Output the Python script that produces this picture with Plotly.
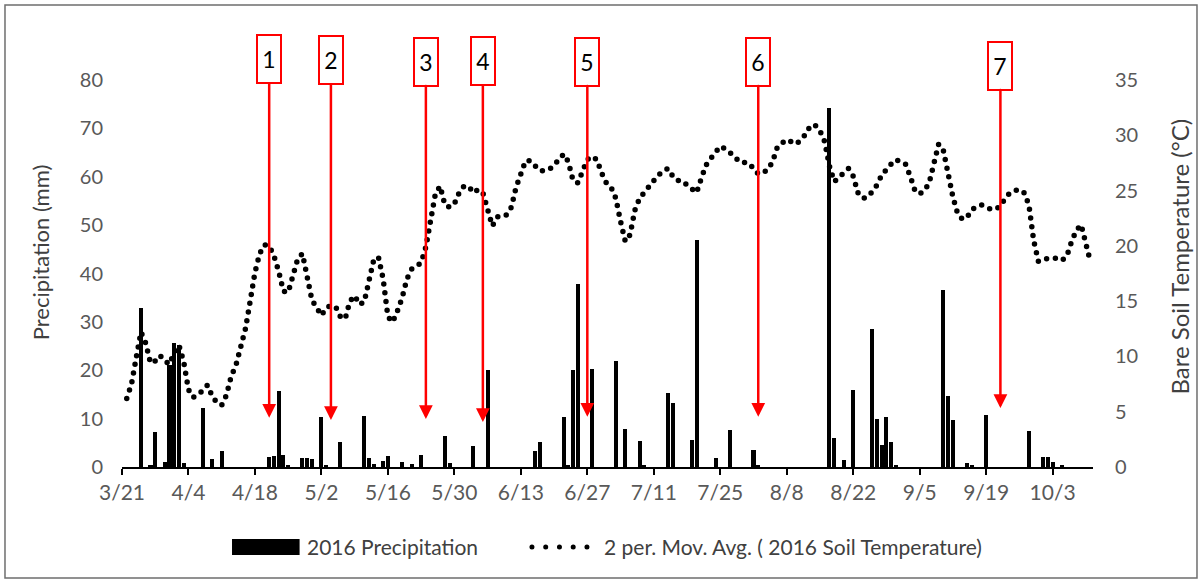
import pandas as pd
import plotly.graph_objects as go

# ---------------- data ----------------
precip_dates = [
    "2016-03-25", "2016-03-27", "2016-03-28", "2016-03-30", "2016-03-31", "2016-04-01", "2016-04-02", "2016-04-03",
    "2016-04-07", "2016-04-09", "2016-04-11",
    "2016-04-21", "2016-04-22", "2016-04-23", "2016-04-24", "2016-04-25",
    "2016-04-28", "2016-04-29", "2016-04-30",
    "2016-05-02", "2016-05-03", "2016-05-06",
    "2016-05-11", "2016-05-12", "2016-05-13", "2016-05-15", "2016-05-16",
    "2016-05-19", "2016-05-21", "2016-05-23",
    "2016-05-28", "2016-05-29",
    "2016-06-03", "2016-06-06",
    "2016-06-16", "2016-06-17",
    "2016-06-22", "2016-06-23", "2016-06-24", "2016-06-25", "2016-06-28",
    "2016-07-03", "2016-07-05", "2016-07-08", "2016-07-09",
    "2016-07-14", "2016-07-15",
    "2016-07-19", "2016-07-20",
    "2016-07-24", "2016-07-27",
    "2016-08-01", "2016-08-02",
    "2016-08-17", "2016-08-18", "2016-08-20", "2016-08-22",
    "2016-08-26", "2016-08-27", "2016-08-28", "2016-08-29", "2016-08-30", "2016-08-31",
    "2016-09-10", "2016-09-11", "2016-09-12",
    "2016-09-15", "2016-09-16", "2016-09-19",
    "2016-09-28",
    "2016-10-01", "2016-10-02", "2016-10-03", "2016-10-05",
]
precip_mm = [
    32.8, 0.5, 7.3, 1.0, 21.0, 25.6, 25.2, 0.8,
    12.1, 1.6, 3.4,
    2.0, 2.2, 15.8, 2.4, 0.5,
    1.8, 1.8, 1.6,
    10.4, 0.5, 5.2,
    10.5, 1.8, 0.6, 1.2, 2.2,
    1.0, 0.6, 2.4,
    6.4, 0.8,
    4.3, 20.0,
    3.3, 5.2,
    10.4, 0.4, 20.0, 37.8, 20.2,
    22.0, 7.8, 5.4, 0.3,
    15.4, 13.3,
    5.6, 47.0,
    1.8, 7.6,
    3.6, 0.3,
    74.3, 5.9, 1.5, 15.9,
    28.5, 10.0, 4.6, 10.3, 5.2, 0.5,
    36.6, 14.6, 9.7,
    0.9, 0.4, 10.8,
    7.5,
    2.1, 2.1, 1.0, 0.5,
]

temp_start = "2016-03-22"
soil_temp_ma = [
    6.2, 7.5, 9.9, 12.2, 11.2, 9.4, 9.6, 10.1, 9.6, 9.3,
    10.4, 11.0, 9.5, 7.0, 6.3, 6.6, 6.9, 7.4, 6.4, 5.8,
    5.6, 6.5, 8.2, 9.2, 10.9, 12.5, 15.0, 17.6, 19.3, 20.1,
    20.0, 19.1, 17.7, 15.9, 15.8, 17.1, 18.8, 19.3, 17.2, 15.1,
    14.4, 13.7, 14.4, 14.6, 14.5, 13.6, 13.4, 15.0, 15.5, 14.7,
    14.9, 16.8, 18.7, 19.0, 17.0, 13.6, 13.1, 14.1, 15.3, 17.0,
    17.9, 18.1, 18.5, 19.9, 22.0, 24.7, 25.4, 23.7, 23.5, 23.8,
    24.8, 25.4, 25.4, 24.8, 25.1, 24.8, 23.3, 21.8, 22.6, 22.8,
    22.8, 23.5, 25.3, 26.7, 27.7, 27.7, 27.3, 26.8, 26.8, 26.9,
    27.3, 27.9, 28.3, 27.6, 25.9, 25.7, 26.8, 27.8, 28.1, 27.8,
    26.6, 25.7, 25.3, 24.3, 22.2, 20.4, 21.0, 23.2, 24.3, 24.9,
    25.4, 25.9, 26.4, 26.8, 27.0, 26.3, 25.9, 25.9, 25.5, 25.1,
    24.8, 26.1, 27.3, 27.9, 28.4, 29.0, 28.8, 28.5, 28.1, 27.6,
    27.6, 27.5, 27.0, 26.5, 26.6, 26.9, 27.6, 28.9, 29.3, 29.6,
    29.4, 29.2, 29.6, 30.1, 30.9, 30.9, 30.4, 29.4, 27.2, 25.8,
    26.2, 26.6, 27.0, 26.3, 24.8, 24.3, 24.4, 24.9, 25.5, 26.4,
    27.0, 27.4, 27.8, 27.6, 27.4, 26.3, 25.0, 24.7, 25.0, 25.7,
    27.4, 29.2, 28.6, 26.2, 24.4, 22.9, 22.4, 22.6, 23.3, 23.5,
    23.7, 23.5, 23.3, 23.3, 23.6, 24.3, 24.8, 25.0, 25.1, 24.8,
    23.7, 20.5, 18.6, 18.8, 18.8, 18.9, 18.9, 18.7, 19.1, 20.4,
    21.4, 21.9, 20.0, 18.5,
]
temp_dates = pd.date_range(temp_start, periods=len(soil_temp_ma), freq="D")

# sampling-event markers (arrows)
event_labels = ["1", "2", "3", "4", "5", "6", "7"]
event_dates = ["2016-04-21", "2016-05-04", "2016-05-24", "2016-06-05", "2016-06-27", "2016-08-02", "2016-09-22"]
event_tip_mm = [10.2, 9.7, 9.9, 9.3, 10.4, 10.4, 12.2]
event_box_mm = [84.3, 84.1, 83.7, 83.9, 83.7, 83.7, 82.9]

x_range = ["2016-03-21", "2016-10-11 12:00"]
x_tick0 = "2016-03-21"

# ---------------- figure ----------------
FONT = "Lato"
TXT = "#404040"
TICK = "#595959"
DAY_MS = 86400000

fig = go.Figure()
fig.add_trace(go.Bar(
    x=precip_dates, y=precip_mm, name="2016 Precipitation",
    marker=dict(color="black", line=dict(width=0)), width=0.85 * DAY_MS,
    yaxis="y",
))
fig.add_trace(go.Scatter(
    x=temp_dates, y=soil_temp_ma, name="2 per. Mov. Avg. ( 2016 Soil Temperature)",
    mode="lines", line=dict(color="black", width=5.5, dash="0px,8.8px"),
    yaxis="y2",
))

fig.update_layout(
    width=1203, height=581,
    margin=dict(l=122, r=110, t=80, b=114),
    paper_bgcolor="white", plot_bgcolor="white",
    showlegend=False, bargap=0,
    font=dict(family=FONT, size=21, color=TICK),
    xaxis=dict(
        type="date", range=x_range, tick0=x_tick0, dtick=14 * DAY_MS,
        tickformat="%-m/%-d", showgrid=False, zeroline=False,
        showline=True, linecolor="black", linewidth=1.5,
        ticks="outside", ticklen=6, tickwidth=1.5, tickcolor="black",
        tickfont=dict(family=FONT, size=21, color=TICK),
    ),
    yaxis=dict(
        range=[0, 80], dtick=10, showgrid=False, zeroline=False, showline=False,
        ticks="", ticklabelstandoff=18,
        tickfont=dict(family=FONT, size=20, color=TICK),
    ),
    yaxis2=dict(
        range=[0, 35], dtick=5, overlaying="y", side="right", anchor="x",
        showgrid=False, zeroline=False, showline=False, ticks="", ticklabelstandoff=21,
        tickfont=dict(family=FONT, size=20, color=TICK),
    ),
)

# axis titles
fig.add_annotation(text="Precipitation (mm)", xref="paper", yref="paper", x=-0.084, y=0.556,
                   textangle=-90, showarrow=False, xanchor="center", yanchor="middle",
                   font=dict(family=FONT, size=22, color=TXT))
fig.add_annotation(text="Bare Soil Temperature (°C)", xref="paper", yref="paper", x=1.089, y=0.545,
                   textangle=-90, showarrow=False, xanchor="center", yanchor="middle",
                   font=dict(family=FONT, size=24, color=TXT))

# event arrows with numbered boxes
for lab, d, tip, box in zip(event_labels, event_dates, event_tip_mm, event_box_mm):
    fig.add_annotation(
        x=d, y=tip, xref="x", yref="y", ax=d, ay=box, axref="x", ayref="y",
        text=lab, showarrow=True, arrowhead=2, arrowsize=1.1, arrowwidth=2.5, arrowcolor="#ff0000",
        bgcolor="white", bordercolor="#ff0000", borderwidth=2, borderpad=0,
        width=22, height=46, font=dict(family=FONT, size=23, color="black"),
    )

# chart border
fig.add_shape(type="rect", xref="paper", yref="paper", x0=-0.1205, x1=1.1071, y0=-0.2868, y1=1.1938,
              line=dict(color="#6e6e6e", width=1.5), fillcolor="rgba(0,0,0,0)", layer="above")

# manual legend
fig.add_shape(type="rect", xref="paper", yref="paper", x0=0.1133, x1=0.1829, y0=-0.2274, y1=-0.1860,
              line=dict(width=0), fillcolor="black")
fig.add_annotation(text="2016 Precipitation", xref="paper", yref="paper", x=0.1885, y=-0.2067,
                   xanchor="left", yanchor="middle", showarrow=False,
                   font=dict(family=FONT, size=21, color=TXT))
fig.add_shape(type="line", xref="paper", yref="paper", x0=0.4222, x1=0.4789, y0=-0.2067, y1=-0.2067,
              line=dict(color="black", width=5, dash="0px,13.75px"))
fig.add_annotation(text="2 per. Mov. Avg. ( 2016 Soil Temperature)", xref="paper", yref="paper",
                   x=0.4944, y=-0.2067, xanchor="left", yanchor="middle", showarrow=False,
                   font=dict(family=FONT, size=21, color=TXT))

post = """
var gd = document.getElementById('{plot_id}');
function roundDots(){
  document.querySelectorAll('path').forEach(function(p){
    var d = p.style.strokeDasharray || p.getAttribute('stroke-dasharray') || '';
    if (d.indexOf('0px') === 0 || d.indexOf('0,') === 0 || d.indexOf('0 ') === 0) {
      p.style.strokeLinecap = 'round';
    }
  });
}
roundDots();
gd.on('plotly_afterplot', roundDots);
"""
fig.write_html("out.html", post_script=post)
